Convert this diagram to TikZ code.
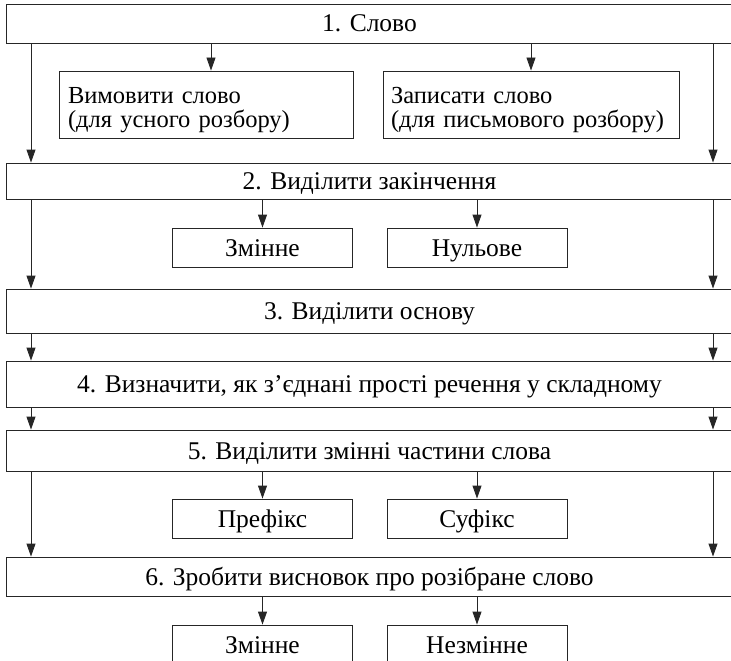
\documentclass[tikz,border=0pt]{standalone}
\usepackage{fontspec}
\setmainfont{Liberation Serif}
\usetikzlibrary{arrows.meta}
\begin{document}
\begin{tikzpicture}[x=1pt,y=1pt,
    box/.style={draw=black!85,line width=0.9pt,inner sep=0pt,font=\fontsize{25.5}{22}\selectfont},
    onebox/.style={box,text height=17pt,text depth=0pt},
    mainbox/.style={onebox,minimum width=727pt},
    subbox/.style={onebox,minimum width=180pt,minimum height=39pt},
    twobox/.style={box,minimum height=67pt,align=left,text height=21pt,text depth=24pt,
        font=\fontsize{24.5}{24}\selectfont},
    arr/.style={draw=black!85,line width=0.9pt,-{Triangle[length=13pt,width=9pt]}}]
    \useasboundingbox (0,0) rectangle (731,-661);

    \node[mainbox,minimum height=39pt] (b1) at (369.5,-23.5) {1. Слово};
    \node[mainbox,minimum height=36pt] (b2) at (369.5,-181) {2. Виділити закінчення};
    \node[mainbox,minimum height=44pt] (b3) at (369.5,-311) {3. Виділити основу};
    \node[mainbox,minimum height=46pt] (b4) at (369.5,-384) {4. Визначити, як з’єднані прості речення у складному};
    \node[mainbox,minimum height=41pt] (b5) at (369.5,-450.5) {5. Виділити змінні частини слова};
    \node[mainbox,minimum height=39pt] (b6) at (369.5,-576.5) {6. Зробити висновок про розібране слово};

    \node[twobox,minimum width=294pt,text width=276pt] (vym) at (206,-104.5) {Вимовити слово\\(для усного розбору)};
    \node[twobox,minimum width=296pt,text width=280pt] (zap) at (531,-104.5) {Записати слово\\(для письмового розбору)};

    \node[subbox] (zm1) at (262.5,-247.5) {Змінне};
    \node[subbox] (nul) at (477,-247.5) {Нульове};
    \node[subbox] (pre) at (262.5,-518.5) {Префікс};
    \node[subbox] (suf) at (477,-518.5) {Суфікс};
    \node[subbox] (zm2) at (262.5,-644.5) {Змінне};
    \node[subbox] (nez) at (477,-644.5) {Незмінне};

    \coordinate (L) at (31,0);
    \coordinate (R) at (713,0);
    \foreach \a/\b in {b1/b2,b2/b3,b3/b4,b4/b5,b5/b6}{
        \draw[arr] (\a.south -| L) -- (\b.north -| L);
        \draw[arr] (\a.south -| R) -- (\b.north -| R);
    }

    \draw[arr] ([xshift=5pt]b1.south -| vym.north) -- ([xshift=5pt]vym.north);
    \draw[arr] (b1.south -| zap.north) -- (zap.north);
    \foreach \a/\b in {b2/zm1,b2/nul,b5/pre,b5/suf,b6/zm2,b6/nez}{
        \draw[arr] (\a.south -| \b.north) -- (\b.north);
    }
\end{tikzpicture}
\end{document}
